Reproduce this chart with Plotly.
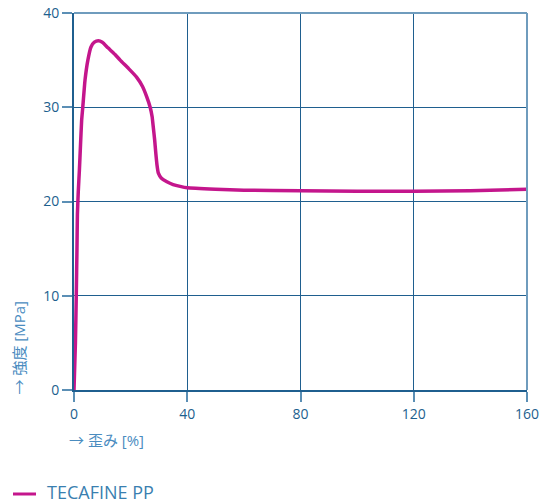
import plotly.graph_objects as go

strain = [0, 0.5, 0.8, 1.05, 1.2, 1.5, 1.9, 2.3, 2.7, 3.1, 3.9, 4.9, 6.0, 7.2, 8.6, 10, 12, 14.5,
          16.3, 19.3, 22.1, 24.2, 25.7, 26.9, 27.6, 28.0, 28.5, 28.9, 29.3, 29.8, 30.8, 32.8, 35,
          37.5, 40, 50, 60, 80, 100, 120, 140, 160]
stress = [0, 5, 10, 15, 18.6, 21, 23.3, 26, 28.6, 30, 32.9, 35, 36.4, 36.9, 37.05, 36.9, 36.3, 35.6,
          35.0, 34.1, 33.2, 32.2, 31.1, 30.0, 29.0, 27.9, 26.5, 25.1, 23.9, 23.0, 22.5, 22.1, 21.8,
          21.6, 21.45, 21.3, 21.2, 21.15, 21.1, 21.1, 21.15, 21.3]
series_name = "TECAFINE PP"
x_ticks = [0, 40, 80, 120, 160]
y_ticks = [0, 10, 20, 30, 40]
x_title = "→ 歪み [%]"
y_title = "→ 強度 [MPa]"

tick_col = "#1d5f8e"
title_col = "#4a8cbf"
grid_col = "#1f5f8f"
edge_col = "#6f9cbd"
curve_col = "#c4168c"

L, R, T, B = 74, 18, 13, 114
W, H = 545, 504
pw, ph = W - L - R, H - T - B


def px(xp):
    return (xp - L) / pw


def py(yp):
    return (H - B - yp) / ph


fig = go.Figure()
fig.add_trace(go.Scatter(x=strain, y=stress, mode="lines", name=series_name, showlegend=False,
                         line=dict(color=curve_col, width=3.5, shape="spline", smoothing=0.4)))

title_font = dict(family="Open Sans, Noto Sans CJK JP", size=15, color=title_col)

fig.update_layout(
    width=W, height=H,
    margin=dict(l=L, r=R, t=T, b=B, autoexpand=False),
    paper_bgcolor="white", plot_bgcolor="white",
    font=dict(family="Open Sans", size=14, color=tick_col),
    showlegend=False,
    xaxis=dict(range=[0, 160], tickvals=x_ticks, showgrid=True, gridcolor=grid_col, gridwidth=1,
               showline=True, linecolor=grid_col, linewidth=2, ticks="outside", ticklen=10,
               tickcolor="#5b8fb5", tickwidth=2, zeroline=False,
               tickfont=dict(size=14, color=tick_col)),
    yaxis=dict(range=[0, 40], tickvals=y_ticks, showgrid=True, gridcolor=grid_col, gridwidth=1,
               showline=True, linecolor=grid_col, linewidth=2, ticks="outside", ticklen=10,
               tickcolor="#5b8fb5", tickwidth=2, zeroline=False,
               tickfont=dict(size=14, color=tick_col)),
    annotations=[
        dict(text=x_title, x=px(67), y=py(440), xref="paper", yref="paper", showarrow=False,
             xanchor="left", yanchor="middle", font=title_font),
        dict(text=y_title, x=px(18), y=py(397), xref="paper", yref="paper", showarrow=False,
             textangle=-90, xanchor="center", yanchor="bottom", font=title_font),
        dict(text=series_name, x=px(45), y=py(492), xref="paper", yref="paper", showarrow=False,
             xanchor="left", yanchor="middle",
             font=dict(family="Open Sans", size=18, color="#3a7fb0")),
    ],
    shapes=[
        dict(type="line", xref="paper", yref="paper", x0=px(13), x1=px(36), y0=py(494), y1=py(494),
             line=dict(color=curve_col, width=3)),
        dict(type="line", xref="paper", yref="paper", x0=0, x1=1, y0=1, y1=1,
             line=dict(color=edge_col, width=2)),
        dict(type="line", xref="paper", yref="paper", x0=1, x1=1, y0=0, y1=1,
             line=dict(color=edge_col, width=2)),
    ],
)
fig.write_html("out.html")
